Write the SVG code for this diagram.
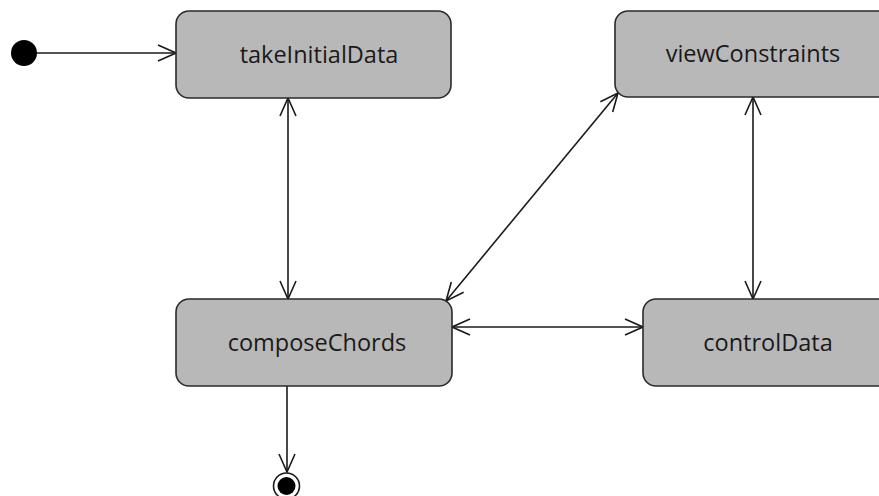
<svg xmlns="http://www.w3.org/2000/svg" width="879" height="496" viewBox="0 0 879 496">
<style>
.node rect{fill:#b8b8b8;stroke:#2a2a2a;stroke-width:1.6}
.node text{font-family:"Open Sans","Liberation Sans",sans-serif;font-size:23.5px;fill:#1a1a1a;text-anchor:middle}
.edge{stroke:#1a1a1a;stroke-width:1.6;fill:none}
</style>
<defs>
<marker id="arr" viewBox="0 0 20 20" refX="19" refY="10" markerWidth="20" markerHeight="20" markerUnits="userSpaceOnUse" orient="auto-start-reverse">
<path d="M1,2 L19,10 L1,18" fill="none" stroke="#1a1a1a" stroke-width="1.6"/>
</marker>
</defs>
<rect width="879" height="496" fill="#ffffff"/>
<g id="connectors">
<line class="edge" x1="37" y1="53" x2="176" y2="53" marker-end="url(#arr)"/>
<line class="edge" x1="288" y1="98" x2="288" y2="299" marker-start="url(#arr)" marker-end="url(#arr)"/>
<line class="edge" x1="446" y1="301" x2="618" y2="93" marker-start="url(#arr)" marker-end="url(#arr)"/>
<line class="edge" x1="753" y1="97" x2="753" y2="299" marker-start="url(#arr)" marker-end="url(#arr)"/>
<line class="edge" x1="452" y1="327" x2="643" y2="327" marker-start="url(#arr)" marker-end="url(#arr)"/>
<line class="edge" x1="287" y1="386" x2="287" y2="472" marker-end="url(#arr)"/>
</g>
<g id="initial">
<circle cx="24" cy="53" r="13" fill="#000"/>
</g>
<g id="takeInitialData" class="node">
<rect x="176" y="11" width="275" height="87" rx="13"/>
<text x="319" y="63">takeInitialData</text>
</g>
<g id="viewConstraints" class="node">
<rect x="615" y="11" width="278" height="86" rx="13"/>
<text x="753" y="62">viewConstraints</text>
</g>
<g id="composeChords" class="node">
<rect x="176" y="299" width="276" height="87" rx="13"/>
<text x="317" y="351">composeChords</text>
</g>
<g id="controlData" class="node">
<rect x="643" y="299" width="250" height="87" rx="13"/>
<text x="768" y="351">controlData</text>
</g>
<g id="final">
<circle cx="286.5" cy="486" r="13" fill="#fff" stroke="#1a1a1a" stroke-width="1.6"/>
<circle cx="286.5" cy="486" r="9" fill="#000"/>
</g>
</svg>
